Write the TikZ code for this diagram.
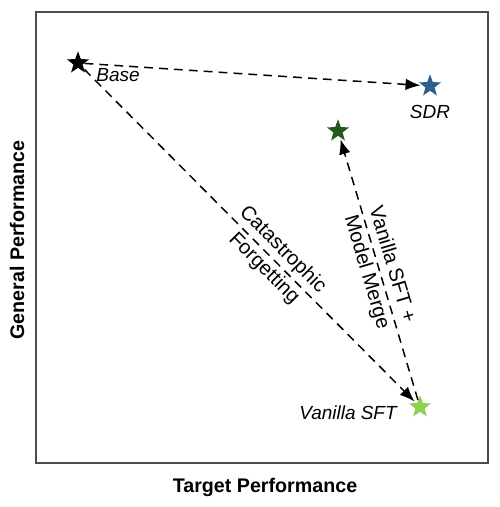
\documentclass[tikz,border=0pt]{standalone}
\usepackage{fontspec}
\setmainfont{Liberation Sans}
\usepackage{xcolor}
\usetikzlibrary{arrows.meta, shapes.geometric}

\definecolor{sdrblue}{HTML}{2F5F8F}
\definecolor{mergegreen}{HTML}{1E5A1E}
\definecolor{sftgreen}{HTML}{8ED14F}

\begin{document}
\begin{tikzpicture}[
  x=0.02cm, y=-0.02cm,
  arrow/.style={-{Latex[length=3mm, width=2.3mm]}, line width=0.85pt, dash pattern=on 5pt off 3.5pt, shorten >=1pt},
  starnode/.style={star, star points=5, star point ratio=2.45, minimum size=0.47cm, inner sep=0pt, draw=none},
  lbl/.style={font=\fontsize{10.8}{13}\selectfont\itshape},
  edgelbl/.style={font=\fontsize{11.5}{15}\selectfont, align=center, sloped},
  axislbl/.style={font=\fontsize{11.2}{13}\selectfont\bfseries}
]
\useasboundingbox (0,0) rectangle (500,507);
\draw[black!70, line width=0.6pt] (36,12) rectangle (488,463);
\node[axislbl] (ylabel) at (17,240) [rotate=90] {General Performance};
\node[axislbl] (xlabel) at (265,487) {Target Performance};
\node[starnode, fill=black] (base) at (78,63) {};
\node[starnode, fill=sdrblue] (sdr) at (430,86) {};
\node[starnode, fill=mergegreen] (merge) at (338,131) {};
\node[starnode, fill=sftgreen] (sft) at (420,407) {};
\node[lbl] (baselabel) at (118,75) {Base};
\node[lbl] (sdrlabel) at (430,112) {SDR};
\node[lbl] (sftlabel) at (348,413) {Vanilla SFT};
\draw[arrow] (base) -- (sdr);
\draw[arrow] (base) -- (sft) node[edgelbl, pos=0.57] {Catastrophic\\Forgetting};
\draw[arrow] (sft) -- (merge) node[edgelbl, pos=0.5] {Vanilla SFT +\\Model Merge};
\end{tikzpicture}
\end{document}
